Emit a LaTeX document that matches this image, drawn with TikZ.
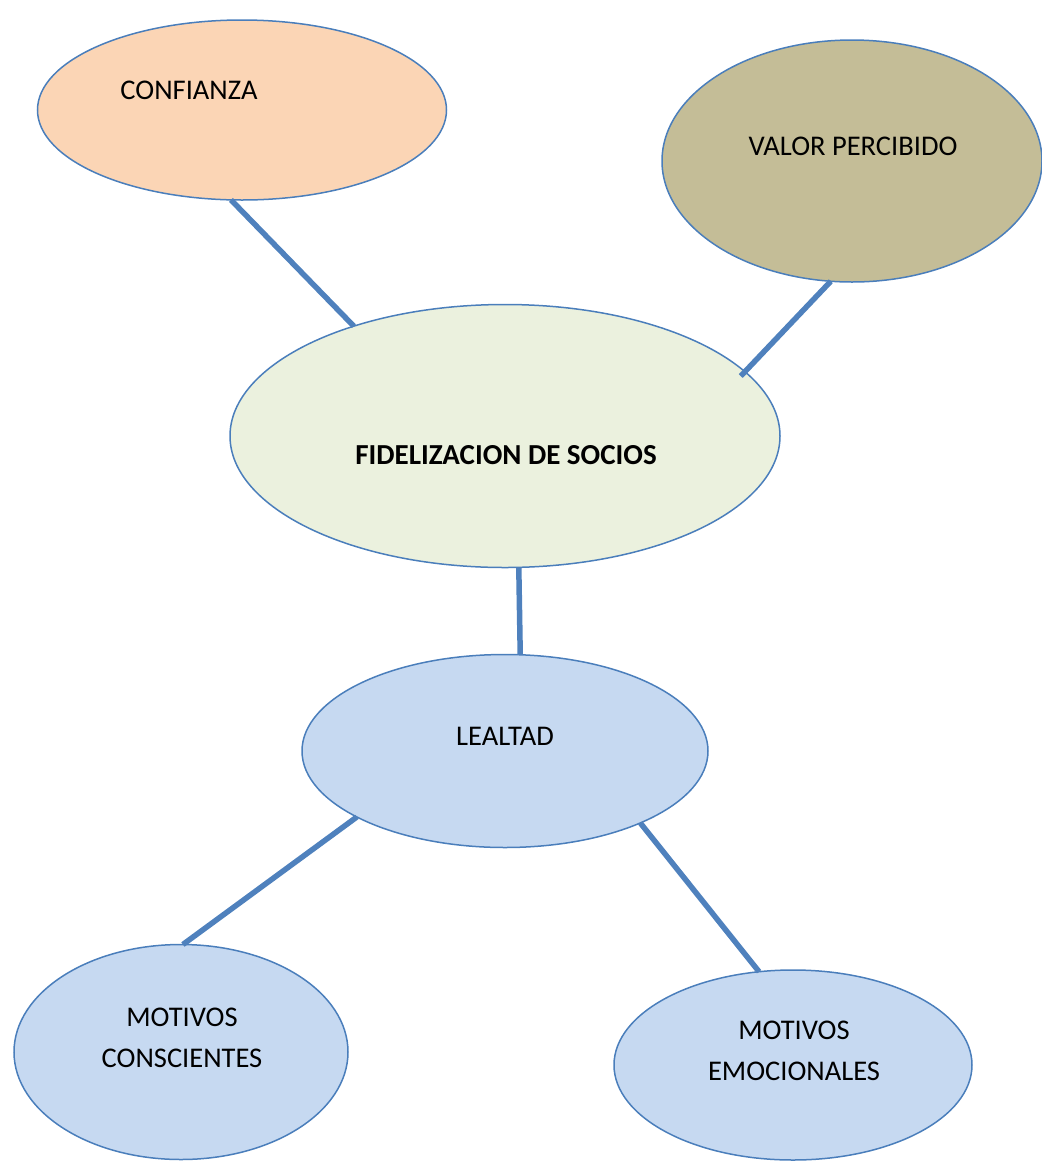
\documentclass[tikz,border=0pt]{standalone}
\usepackage{fontspec}
\setmainfont{Carlito}
\usetikzlibrary{shapes.geometric}
\definecolor{edgeblue}{HTML}{4A7EBB}
\definecolor{linkblue}{HTML}{4F81BD}
\definecolor{peach}{HTML}{FBD5B5}
\definecolor{khaki}{HTML}{C4BD97}
\definecolor{palegreen}{HTML}{EBF1DE}
\definecolor{paleblue}{HTML}{C6D9F1}
\tikzset{
  oval/.style={ellipse, draw=edgeblue, line width=1.5pt, inner sep=0pt, outer sep=0pt},
  lbl/.style={font=\fontsize{28.5}{41}\selectfont, align=center, inner sep=0pt},
  link/.style={draw=linkblue, line width=5.5pt}
}
\begin{document}
\begin{tikzpicture}[x=1pt,y=-1pt]
\useasboundingbox (0,0) rectangle (1042,1163);
\node[oval, fill=peach, minimum width=409pt, minimum height=180pt] (conf) at (242,110) {};
\node[oval, fill=khaki, minimum width=380pt, minimum height=242pt] (valor) at (852,161) {};
\node[oval, fill=palegreen, minimum width=550pt, minimum height=263pt] (fid) at (505,436) {};
\node[oval, fill=paleblue, minimum width=406pt, minimum height=193pt] (leal) at (505,751) {};
\node[oval, fill=paleblue, minimum width=334pt, minimum height=215pt] (mc) at (181,1052) {};
\node[oval, fill=paleblue, minimum width=358pt, minimum height=190pt] (me) at (793,1065) {};

\node[lbl] (tconf) at (189,90) {CONFIANZA};
\node[lbl] (tvalor) at (853,146) {VALOR PERCIBIDO};
\node[lbl, font=\fontsize{29}{41}\selectfont\bfseries] (tfid) at (506,455) {FIDELIZACION DE SOCIOS};
\node[lbl] (tleal) at (505,736) {LEALTAD};
\node[lbl] (tmc) at (182,1038) {MOTIVOS\\CONSCIENTES};
\node[lbl] (tme) at (794,1051) {MOTIVOS\\EMOCIONALES};

\draw[link] (conf.-97.4) -- (fid.144);
\draw[link, shorten >=-6pt] (valor.-100.8) -- (fid.15.9);
\draw[link] (fid.-84) -- (leal.81.7);
\draw[link] (leal.-156.9) -- (mc.89);
\draw[link] (leal.-28.4) -- (me.110.4);
\end{tikzpicture}
\end{document}
